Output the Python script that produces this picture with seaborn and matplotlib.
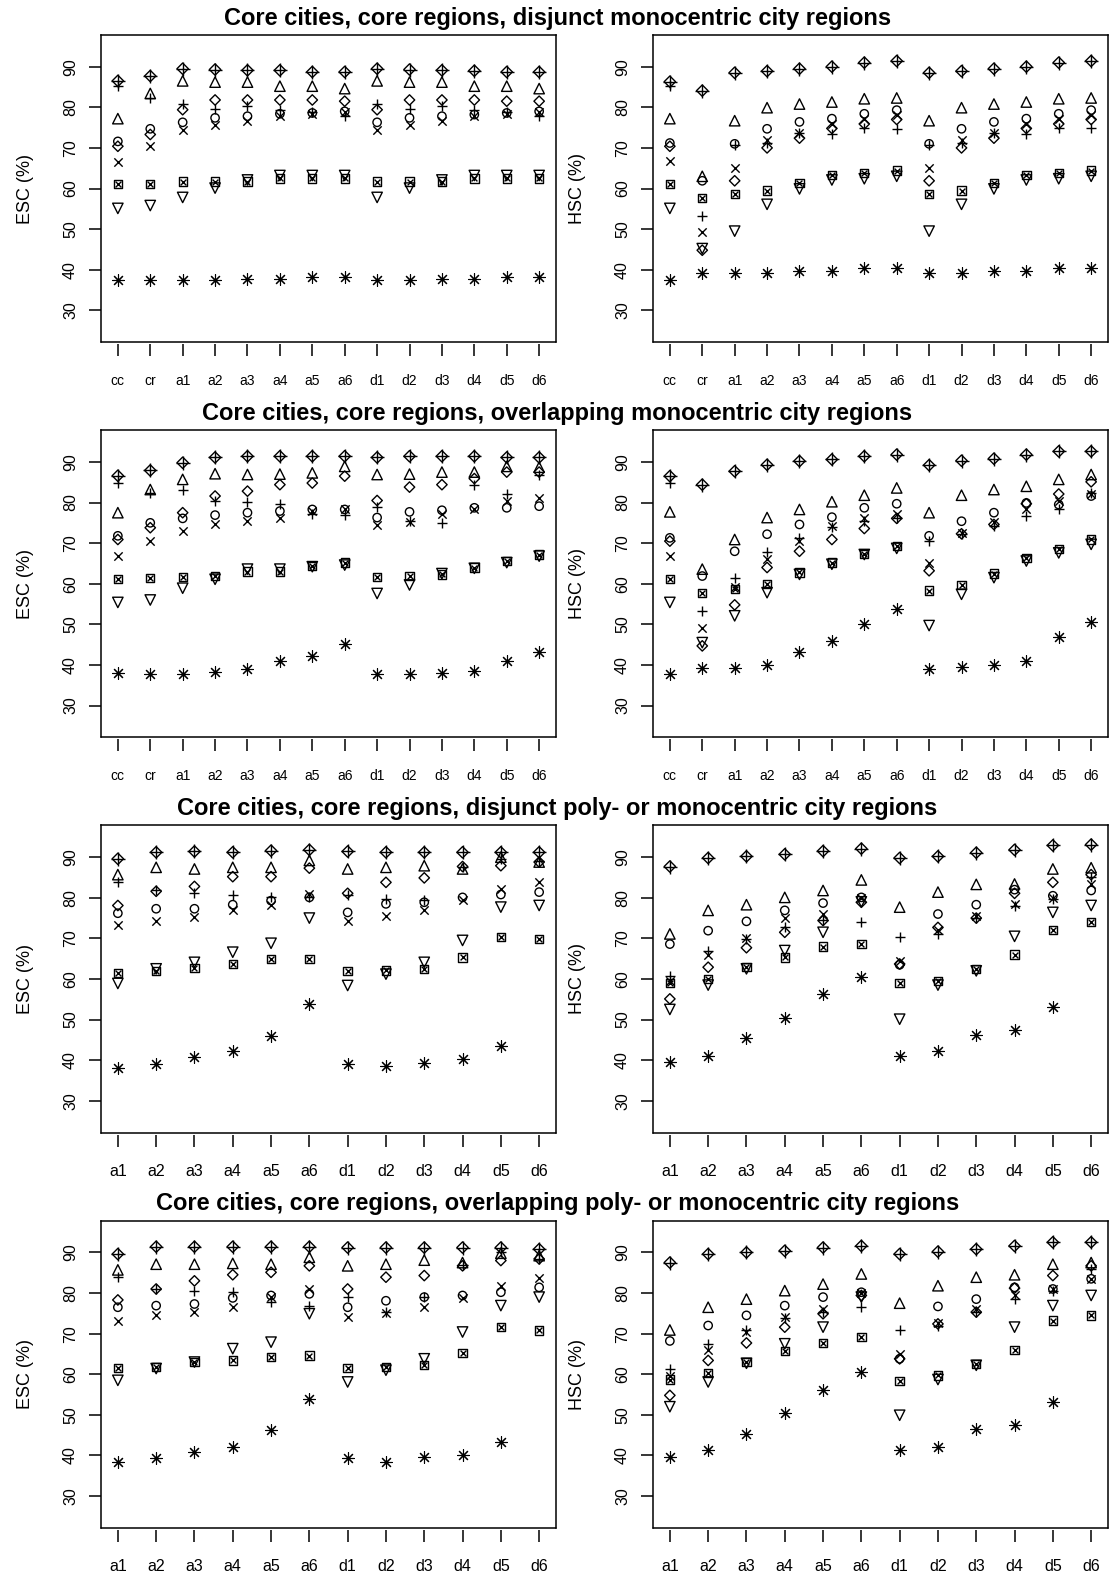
import numpy as np
import matplotlib
matplotlib.use('Agg')
import matplotlib.pyplot as plt
from matplotlib.markers import MarkerStyle
import seaborn as sns

nan = np.nan

cats_long = ['cc', 'cr', 'a1', 'a2', 'a3', 'a4', 'a5', 'a6',
             'd1', 'd2', 'd3', 'd4', 'd5', 'd6']
cats_short = cats_long[2:]

titles = ['Core cities, core regions, disjunct monocentric city regions',
          'Core cities, core regions, overlapping monocentric city regions',
          'Core cities, core regions, disjunct poly- or monocentric city regions',
          'Core cities, core regions, overlapping poly- or monocentric city regions']

# row 1: disjunct monocentric
esc_disj_mono = {
    'dia_plus': [86.5, 87.7, 89.5, 89.3, 89.1, 89.1, 88.7, 88.7, 89.5, 89.3, 89.1, 89.0, 88.7, 88.7],
    'triangle': [77.2, 83.4, 86.5, 86.2, 86.2, 85.2, 85.2, 84.6, 86.5, 86.2, 86.2, 85.2, 85.2, 84.6],
    'plus':     [85.2, 82.3, 80.7, 79.7, 80.4, 79.4, 78.9, 77.8, 80.7, 79.7, 80.4, 79.4, 78.9, 77.8],
    'diamond':  [70.4, 73.3, 79.4, 81.8, 81.8, 81.8, 81.8, 81.5, 79.4, 81.8, 81.8, 81.8, 81.5, 81.5],
    'circle':   [71.6, 74.7, 76.3, 77.4, 77.8, 78.4, 78.6, 79.0, 76.3, 77.4, 77.8, 78.2, 78.6, 79.0],
    'cross':    [66.5, 70.4, 74.5, 75.7, 76.6, 77.8, 78.4, 78.8, 74.5, 75.7, 76.6, 77.8, 78.4, 78.8],
    'sq_cross': [61.1, 61.1, 61.7, 61.7, 61.7, 62.5, 62.5, 62.5, 61.7, 61.7, 61.7, 62.5, 62.5, 62.5],
    'tri_down': [55.1, 55.8, 57.8, 60.1, 62.1, 63.2, 63.2, 63.2, 57.8, 60.1, 62.1, 63.2, 63.2, 63.2],
    'aster':    [37.4, 37.4, 37.4, 37.4, 37.8, 37.6, 38.2, 38.2, 37.4, 37.4, 37.8, 37.8, 38.2, 38.2],
}
hsc_disj_mono = {
    'dia_plus': [86.3, 84.1, 88.5, 88.9, 89.5, 90.0, 91.0, 91.4, 88.5, 88.9, 89.5, 90.0, 91.0, 91.4],
    'triangle': [77.2, 63.0, 76.7, 79.9, 80.8, 81.3, 82.1, 82.3, 76.7, 79.9, 80.8, 81.3, 82.1, 82.3],
    'plus':     [85.2, 53.3, 70.8, 71.2, 73.7, 73.5, 74.9, 74.7, 70.8, 71.2, 73.7, 73.5, 74.9, 74.9],
    'diamond':  [70.4, 44.8, 61.9, 70.0, 72.4, 74.8, 75.9, 77.0, 61.9, 70.0, 72.4, 74.8, 75.9, 77.0],
    'circle':   [71.2, 61.9, 71.0, 74.7, 76.4, 77.2, 78.4, 79.3, 71.0, 74.7, 76.4, 77.2, 78.4, 79.3],
    'cross':    [66.7, 49.4, 65.0, 72.0, 73.7, 76.0, 77.0, 78.0, 65.0, 72.0, 73.7, 76.0, 77.0, 78.0],
    'sq_cross': [61.1, 57.6, 58.6, 59.5, 61.3, 63.4, 63.8, 64.4, 58.6, 59.5, 61.3, 63.4, 63.8, 64.4],
    'tri_down': [55.1, 45.2, 49.5, 56.1, 59.9, 62.1, 62.4, 63.0, 49.5, 56.1, 59.9, 62.1, 62.4, 63.0],
    'aster':    [37.4, 39.1, 39.1, 39.1, 39.6, 39.6, 40.3, 40.3, 39.1, 39.1, 39.6, 39.6, 40.3, 40.3],
}

# row 2: overlapping monocentric
esc_over_mono = {
    'dia_plus': [86.6, 87.9, 89.8, 91.1, 91.4, 91.4, 91.4, 91.4, 91.1, 91.4, 91.4, 91.4, 91.1, 91.1],
    'triangle': [77.5, 83.2, 85.7, 87.1, 86.9, 87.0, 87.3, 88.9, 86.9, 87.0, 87.5, 87.5, 88.9, 88.7],
    'plus':     [84.8, 82.4, 83.2, 80.5, 80.2, 79.7, 77.2, 76.9, 78.9, 75.5, 75.0, 84.4, 82.1, 86.9],
    'diamond':  [70.9, 73.8, 77.5, 81.6, 82.8, 84.4, 84.8, 86.5, 80.5, 83.8, 84.4, 85.9, 87.5, 87.5],
    'circle':   [71.8, 75.0, 76.1, 76.9, 77.5, 77.9, 78.3, 78.3, 76.3, 77.7, 78.1, 78.7, 78.7, 79.1],
    'cross':    [66.8, 70.5, 73.1, 74.8, 75.4, 76.3, 77.9, 78.3, 74.5, 75.3, 77.1, 78.3, 80.3, 81.2],
    'sq_cross': [61.1, 61.4, 61.7, 61.9, 63.0, 63.0, 64.4, 65.2, 61.7, 61.9, 62.3, 64.0, 65.6, 67.2],
    'tri_down': [55.4, 56.0, 58.9, 61.1, 63.6, 63.6, 64.2, 64.6, 57.6, 59.7, 62.5, 63.8, 65.2, 66.8],
    'aster':    [38.0, 37.8, 37.8, 38.2, 39.0, 41.0, 42.3, 45.2, 37.8, 37.8, 38.0, 38.6, 41.0, 43.1],
}
hsc_over_mono = {
    'dia_plus': [86.5, 84.4, 87.7, 89.3, 90.2, 90.6, 91.4, 91.8, 89.2, 90.3, 90.8, 91.8, 92.6, 92.6],
    'triangle': [77.7, 63.6, 70.9, 76.3, 78.3, 80.2, 81.8, 83.6, 77.5, 81.8, 83.2, 84.0, 85.7, 86.9],
    'plus':     [84.8, 53.2, 61.4, 67.7, 71.2, 74.0, 75.4, 76.3, 70.5, 72.2, 74.2, 76.7, 78.3, 82.4],
    'diamond':  [70.5, 44.7, 54.8, 64.0, 68.0, 70.9, 73.6, 76.1, 63.2, 72.3, 74.6, 79.7, 82.1, 85.1],
    'circle':   [71.3, 61.9, 68.0, 72.2, 74.6, 76.4, 78.7, 79.7, 71.8, 75.4, 77.5, 79.9, 79.5, 81.6],
    'cross':    [66.8, 49.2, 59.1, 66.0, 70.5, 74.2, 76.1, 77.1, 65.2, 72.6, 75.3, 78.3, 80.3, 82.0],
    'sq_cross': [61.1, 57.8, 58.7, 60.0, 62.8, 65.2, 67.4, 69.3, 58.3, 59.7, 62.5, 66.3, 68.5, 70.9],
    'tri_down': [55.4, 45.5, 52.1, 57.8, 62.3, 64.8, 67.2, 68.7, 49.7, 57.4, 61.5, 65.6, 67.6, 69.7],
    'aster':    [37.8, 39.3, 39.3, 40.1, 43.1, 45.8, 50.1, 53.7, 39.0, 39.4, 40.1, 41.1, 46.8, 50.7],
}

# row 3: disjunct poly- or monocentric
esc_disj_poly = {
    'dia_plus': [89.6, 91.2, 91.4, 91.2, 91.6, 91.8, 91.4, 91.2, 91.2, 91.2, 91.2, 91.2],
    'triangle': [85.7, 87.5, 87.1, 87.5, 87.5, 89.2, 87.1, 87.5, 87.9, 87.1, 90.0, 88.8],
    'plus':     [83.8, 81.8, 81.1, 80.8, 80.1, 80.3, 80.8, 79.7, 79.5, 87.5, 89.5, 89.0],
    'diamond':  [78.1, 81.6, 82.8, 85.2, 85.2, 87.3, 81.1, 83.8, 84.9, 87.7, 87.9, 88.8],
    'circle':   [76.2, 77.3, 77.3, 78.3, 79.3, 80.1, 76.4, 78.5, 78.9, 80.1, 80.8, 81.4],
    'cross':    [73.2, 74.4, 75.2, 77.0, 78.3, 81.0, 74.2, 75.6, 76.9, 79.5, 82.2, 83.8],
    'sq_cross': [61.4, 61.9, 62.7, 63.7, 64.9, 64.9, 61.9, 62.1, 62.5, 65.3, 70.3, 69.9],
    'tri_down': [58.9, 62.5, 64.1, 66.6, 68.8, 75.0, 58.4, 61.2, 64.1, 69.5, 77.7, 78.1],
    'aster':    [38.2, 39.0, 40.9, 42.3, 46.0, 53.8, 39.0, 38.6, 39.4, 40.3, 43.6, nan],
}
hsc_disj_poly = {
    'dia_plus': [87.7, 89.8, 90.2, 90.7, 91.5, 92.1, 89.8, 90.2, 91.1, 91.8, 92.9, 93.1],
    'triangle': [71.1, 76.9, 78.3, 80.1, 81.8, 84.4, 77.7, 81.4, 83.3, 83.4, 87.1, 87.4],
    'plus':     [60.8, 67.0, 69.9, 72.7, 74.5, 74.0, 70.3, 71.1, 75.0, 78.0, 79.8, 85.0],
    'diamond':  [55.1, 62.9, 67.7, 71.5, 74.4, 78.9, 63.7, 72.7, 75.0, 81.1, 83.8, 85.7],
    'circle':   [68.6, 71.9, 74.2, 76.9, 78.7, 80.1, 63.5, 76.0, 78.3, 82.0, 80.5, 81.8],
    'cross':    [59.5, 66.0, 70.0, 75.0, 76.0, 80.0, 64.5, 72.0, 75.5, 78.5, 80.0, 83.5],
    'sq_cross': [59.0, 60.0, 63.0, 65.3, 68.0, 68.6, 59.0, 59.5, 62.5, 66.0, 72.0, 74.0],
    'tri_down': [52.5, 58.5, 62.5, 67.0, 71.5, 79.0, 50.1, 58.5, 62.0, 70.5, 76.4, 78.1],
    'aster':    [39.5, 41.1, 45.4, 50.5, 56.3, 60.4, 41.1, 42.2, 46.3, 47.4, 53.0, nan],
}

# row 4: overlapping poly- or monocentric
esc_over_poly = {
    'dia_plus': [89.6, 91.4, 91.4, 91.4, 91.4, 91.4, 91.2, 91.2, 91.2, 91.2, 91.2, 90.8],
    'triangle': [85.7, 87.1, 87.1, 87.3, 87.1, 88.8, 86.7, 87.1, 88.1, 87.5, 89.8, 89.2],
    'plus':     [83.9, 81.0, 80.6, 80.2, 77.7, 76.9, 79.0, 75.3, 79.0, 87.0, 90.0, 88.5],
    'diamond':  [78.3, 81.0, 83.0, 84.5, 85.1, 86.7, 81.0, 83.9, 84.3, 86.7, 88.0, 88.4],
    'circle':   [76.5, 76.9, 77.3, 78.8, 79.4, 79.8, 76.5, 78.1, 79.0, 79.4, 80.2, 81.4],
    'cross':    [73.2, 74.5, 75.3, 76.5, 79.0, 81.0, 74.2, 75.0, 76.5, 78.8, 81.8, 83.7],
    'sq_cross': [61.6, 61.8, 63.0, 63.4, 64.2, 64.6, 61.6, 61.8, 62.2, 65.2, 71.6, 70.8],
    'tri_down': [58.5, 61.4, 63.0, 66.3, 67.9, 74.9, 58.1, 61.0, 63.8, 70.4, 76.9, 79.0],
    'aster':    [38.4, 39.3, 40.9, 42.1, 46.2, 54.0, 39.3, 38.4, 39.7, 40.1, 43.4, nan],
}
hsc_over_poly = {
    'dia_plus': [87.5, 89.6, 90.0, 90.4, 91.2, 91.6, 89.6, 90.2, 90.8, 91.6, 92.5, 92.5],
    'triangle': [70.9, 76.5, 78.5, 80.6, 82.2, 84.7, 77.5, 81.8, 83.9, 84.5, 87.1, 87.5],
    'plus':     [61.4, 67.5, 70.8, 73.9, 75.3, 76.5, 70.8, 72.0, 75.3, 78.5, 80.6, 85.9],
    'diamond':  [54.8, 63.4, 67.7, 71.6, 74.9, 79.4, 63.8, 72.4, 75.3, 81.2, 84.3, 86.7],
    'circle':   [68.2, 72.0, 74.5, 76.9, 79.0, 80.2, 63.8, 76.7, 78.5, 81.4, 81.0, 83.5],
    'cross':    [59.5, 66.0, 70.5, 74.0, 76.0, 80.0, 65.0, 72.5, 76.0, 79.5, 81.0, 83.5],
    'sq_cross': [58.7, 60.3, 63.0, 65.7, 67.7, 69.1, 58.4, 59.7, 62.6, 66.0, 73.2, 74.5],
    'tri_down': [52.0, 58.1, 62.7, 67.5, 71.6, 79.0, 49.9, 58.7, 62.2, 71.6, 76.9, 79.4],
    'aster':    [39.7, 41.3, 45.4, 50.5, 56.2, 60.5, 41.3, 42.1, 46.6, 47.5, 53.2, nan],
}

rows = [(cats_long, esc_disj_mono, hsc_disj_mono),
        (cats_long, esc_over_mono, hsc_over_mono),
        (cats_short, esc_disj_poly, hsc_disj_poly),
        (cats_short, esc_over_poly, hsc_over_poly)]

# R-like plotting symbols, drawn as one or two layered matplotlib markers
# (marker, size in pt, line width)
symbols = {
    'circle':   [('o', 6.0, 1.0)],
    'triangle': [('^', 7.5, 1.0)],
    'plus':     [('+', 7.5, 1.0)],
    'cross':    [('x', 6.0, 1.0)],
    'diamond':  [('D', 5.3, 1.0)],
    'tri_down': [('v', 7.5, 1.0)],
    'sq_cross': [('s', 6.0, 1.0), ('x', 4.2, 1.0)],
    'aster':    [((8, 2, 0), 8.5, 0.8)],
    'dia_plus': [('D', 5.8, 1.0), ('+', 9.5, 1.0)],
}

sns.set_style('ticks', {'axes.edgecolor': 'black', 'xtick.color': 'black',
                        'ytick.color': 'black', 'text.color': 'black',
                        'axes.labelcolor': 'black'})
plt.rcParams['font.family'] = ['Liberation Sans', 'DejaVu Sans']

W, H = 1115, 1581
fig = plt.figure(figsize=(W / 100, H / 100), dpi=100)
lefts = [101, 653]
box_w, box_h = 455, 307
row_h = H / 4
tops = [35 + i * row_h for i in range(4)]


def draw_panel(ax, cats, data, ylabel, xfs, xpad):
    xpos = np.arange(1, len(cats) + 1)
    for name, vals in data.items():
        for mk, size, lw in symbols[name]:
            if MarkerStyle(mk).is_filled():
                kw = dict(facecolors='none', edgecolor='black')
            else:
                kw = dict(color='black')
            sns.scatterplot(x=xpos, y=np.array(vals), marker=mk, s=size ** 2,
                            linewidth=lw, ax=ax, legend=False, **kw)
    n = len(cats)
    ax.set_xlim(1 - 0.04 * (n - 1), n + 0.04 * (n - 1))
    ax.set_ylim(22.2, 97.8)
    ax.set_xticks(xpos)
    ax.set_xticklabels(cats)
    ax.set_yticks([30, 40, 50, 60, 70, 80, 90])
    ax.set_ylabel(ylabel, fontsize=13)
    ax.yaxis.set_label_coords(-0.147, 0.5)
    for sp in ax.spines.values():
        sp.set_linewidth(1.1)
    # detached x axis ticks, box closed with a line
    ax.spines['bottom'].set_position(('outward', 1.5))
    ax.spines['bottom'].set_visible(False)
    ax.plot([0, 1], [0, 0], transform=ax.transAxes, color='black', lw=1.1,
            clip_on=False)
    ax.tick_params(axis='x', length=8.5, width=1.1, pad=xpad, labelsize=xfs)
    ax.tick_params(axis='y', length=8.5, width=1.1, pad=8, labelsize=11.5,
                   labelrotation=90)
    for lab in ax.get_yticklabels():
        lab.set_va('center')


for r, (cats, esc, hsc) in enumerate(rows):
    xfs, xpad = (10, 13) if r < 2 else (11.5, 12.5)
    for c, (data, ylab) in enumerate([(esc, 'ESC (%)'), (hsc, 'HSC (%)')]):
        ax = fig.add_axes([lefts[c] / W, 1 - (tops[r] + box_h) / H,
                           box_w / W, box_h / H])
        draw_panel(ax, cats, data, ylab, xfs, xpad)
    fig.text(0.5, 1 - (tops[r] - 17) / H, titles[r], ha='center', va='center',
             fontsize=17, fontweight='bold')

fig.savefig('out.png', dpi=100)
